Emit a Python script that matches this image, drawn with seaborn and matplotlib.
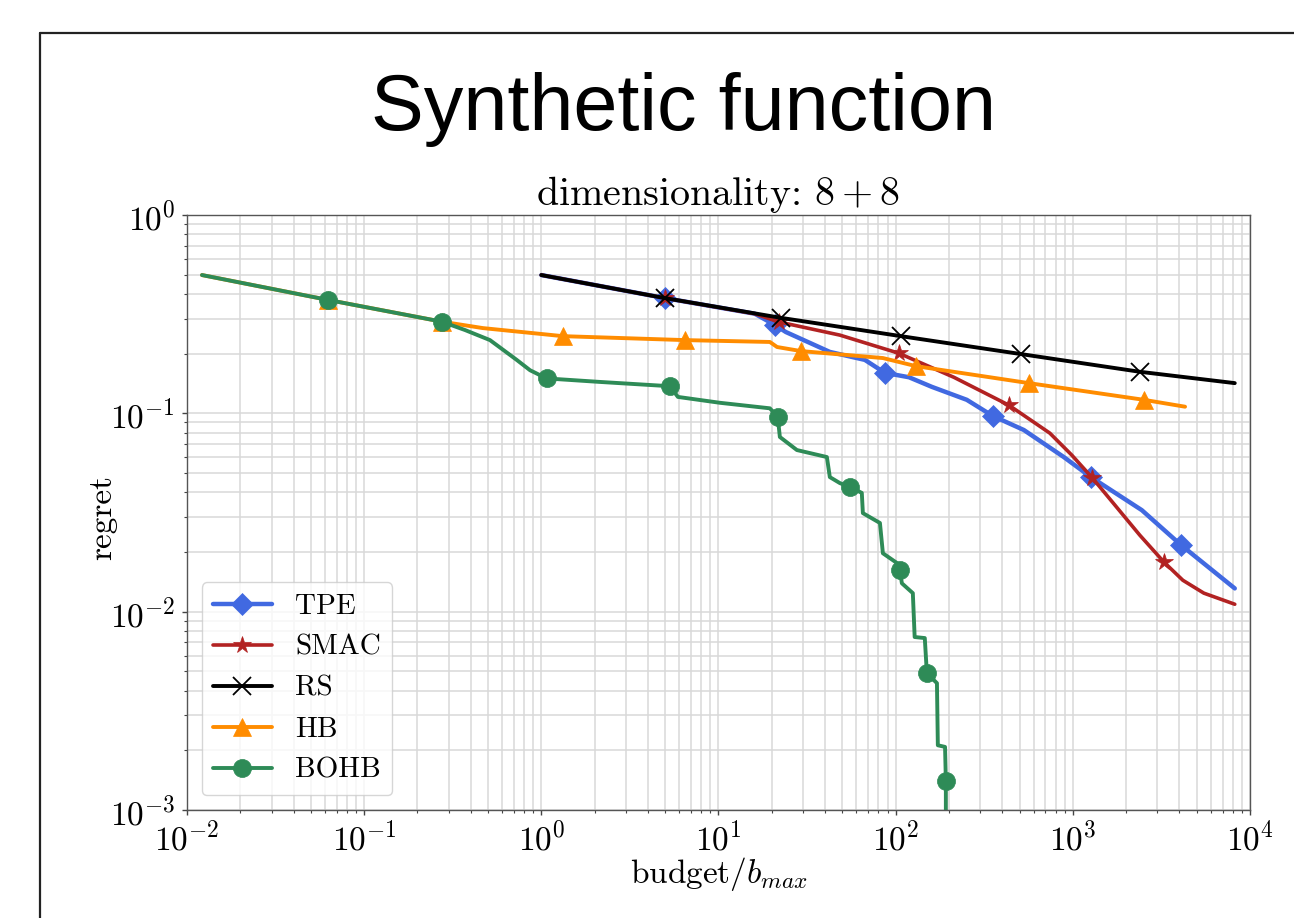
import matplotlib
matplotlib.use("Agg")
import matplotlib.pyplot as plt
from matplotlib.lines import Line2D
import seaborn as sns
import pandas as pd

# values (budget / b_max, regret)
tpe_budget = [1.0, 4.99, 16.0, 20.8, 24.0, 42.5, 67.0, 86.9, 119, 160, 252, 354, 529, 889, 1265, 2451, 4074, 8204]
tpe_regret = [0.498, 0.381, 0.318, 0.279, 0.257, 0.204, 0.186, 0.160, 0.152, 0.136, 0.117, 0.0969, 0.0824, 0.0602,
              0.0477, 0.0325, 0.0217, 0.0131]
tpe_marks = [1, 3, 7, 11, 14, 16]

smac_budget = [1.0, 4.99, 16.0, 21.9, 48.4, 104, 213, 435, 741, 986, 1290, 1726, 2388, 3264, 4178, 5488, 8204]
smac_regret = [0.498, 0.381, 0.318, 0.289, 0.248, 0.201, 0.152, 0.110, 0.0795, 0.0616, 0.0472, 0.0345, 0.0243,
               0.0178, 0.0144, 0.0124, 0.0109]
smac_marks = [1, 3, 5, 7, 10, 13]

rs_budget = [1.0, 4.99, 22.5, 107, 509, 2388, 8204]
rs_regret = [0.498, 0.381, 0.303, 0.245, 0.199, 0.162, 0.142]
rs_marks = [1, 2, 3, 4, 5]

hb_budget = [0.01215, 0.0626, 0.2735, 0.468, 1.01, 1.32, 6.46, 19.5, 21.4, 29.2, 84.7, 130, 565, 2517, 4300]
hb_regret = [0.498, 0.373, 0.290, 0.269, 0.251, 0.245, 0.234, 0.229, 0.216, 0.206, 0.190, 0.173, 0.142, 0.117, 0.108]
hb_marks = [1, 2, 5, 6, 9, 11, 12, 13]

bohb_budget = [0.01215, 0.0626, 0.2735, 0.371, 0.513, 0.726, 0.863, 1.07, 2.14, 5.32, 5.90, 10.2, 19.5, 21.6,
               22.2, 27.7, 40.9, 42.5, 48.4, 55.2, 64.4, 65.3, 81.5, 84.7, 101.6, 105.6, 108.4, 125, 128, 146,
               150, 171, 173, 190, 192, 192]
bohb_regret = [0.498, 0.373, 0.290, 0.263, 0.234, 0.186, 0.165, 0.150, 0.144, 0.137, 0.121, 0.113, 0.106, 0.0958,
               0.0760, 0.0653, 0.0602, 0.0477, 0.0445, 0.0425, 0.0397, 0.0314, 0.0280, 0.0197, 0.0176, 0.0162,
               0.0139, 0.0124, 0.00745, 0.00736, 0.00490, 0.00436, 0.00212, 0.00208, 0.00140, 0.0007]
bohb_marks = [1, 2, 7, 9, 13, 19, 25, 30, 34]

methods = ["TPE", "SMAC", "RS", "HB", "BOHB"]

sns.set_style("whitegrid")
plt.rcParams["font.family"] = "serif"
plt.rcParams["font.serif"] = ["cmr10"]
plt.rcParams["mathtext.fontset"] = "cm"
plt.rcParams["axes.formatter.use_mathtext"] = True
plt.rcParams["axes.unicode_minus"] = False
plt.rcParams["text.color"] = "black"
plt.rcParams["axes.labelcolor"] = "black"
plt.rcParams["xtick.color"] = "black"
plt.rcParams["ytick.color"] = "black"

fig = plt.figure(figsize=(12.94, 9.18), dpi=100)
ax = fig.add_axes([187 / 1294, 1 - 810 / 918, 1063 / 1294, 595 / 918])

# name, x, y, marker idx, color, marker, size, linewidth
series = [
    ("TPE", tpe_budget, tpe_regret, tpe_marks, "royalblue", "D", 11, 3.2),
    ("SMAC", smac_budget, smac_regret, smac_marks, "firebrick", "*", 13, 2.6),
    ("RS", rs_budget, rs_regret, rs_marks, "black", "x", 13, 2.8),
    ("HB", hb_budget, hb_regret, hb_marks, "darkorange", "^", 13, 2.8),
    ("BOHB", bohb_budget, bohb_regret, bohb_marks, "seagreen", "o", 13, 2.8),
]

handles = []
for name, bx, ry, marks, color, marker, ms, lw in series:
    df = pd.DataFrame({"budget": bx, "regret": ry})
    mew = 1.3 if marker == "x" else 0.5
    sns.lineplot(data=df, x="budget", y="regret", ax=ax, color=color, lw=lw,
                 marker=marker, ms=ms, markevery=marks, mec=color, mfc=color, mew=mew,
                 sort=False, estimator=None, errorbar=None)
    handles.append(Line2D([], [], color=color, lw=lw, marker=marker, ms=ms,
                          mec=color, mfc=color, mew=mew))

ax.set_xscale("log")
ax.set_yscale("log")
ax.set_xlim(1e-2, 1e4)
ax.set_ylim(1e-3, 1e0)
ax.set_xticks([1e-2, 1e-1, 1e0, 1e1, 1e2, 1e3, 1e4])
ax.set_yticks([1e-3, 1e-2, 1e-1, 1e0])

ax.grid(True, which="both", color="#d8d8d8", lw=1.1)
for sp in ax.spines.values():
    sp.set_color("#555555")
    sp.set_linewidth(1.0)
ax.tick_params(which="both", direction="out", bottom=True, left=True, color="#444444", labelsize=24, pad=5)
ax.tick_params(axis="x", which="both", pad=4)
ax.tick_params(which="major", length=3.5, width=1)
ax.tick_params(which="minor", length=2, width=0.8)

ax.set_title(r"dimensionality: $8+8$", fontsize=28.8, pad=5)
ax.set_xlabel(r"budget/$b_{max}$", fontsize=24)
ax.set_ylabel("regret", fontsize=24)
ax.xaxis.set_label_coords(0.5, -0.075)
ax.yaxis.set_label_coords(-0.066, 0.492)

ax.legend(handles, methods, loc="lower left", fontsize=21)

# slide title and frame
fig.text(683.5 / 1294, 1 - 130 / 918, "Synthetic function", ha="center", va="baseline",
         fontsize=57, family="Liberation Sans", color="black")
fig.add_artist(Line2D([40 / 1294, 40 / 1294], [0, 1 - 33 / 918], transform=fig.transFigure, color="#222222", lw=1.6))
fig.add_artist(Line2D([40 / 1294, 1], [1 - 33 / 918, 1 - 33 / 918], transform=fig.transFigure, color="#222222", lw=1.6))

fig.savefig("out.png", dpi=100)
